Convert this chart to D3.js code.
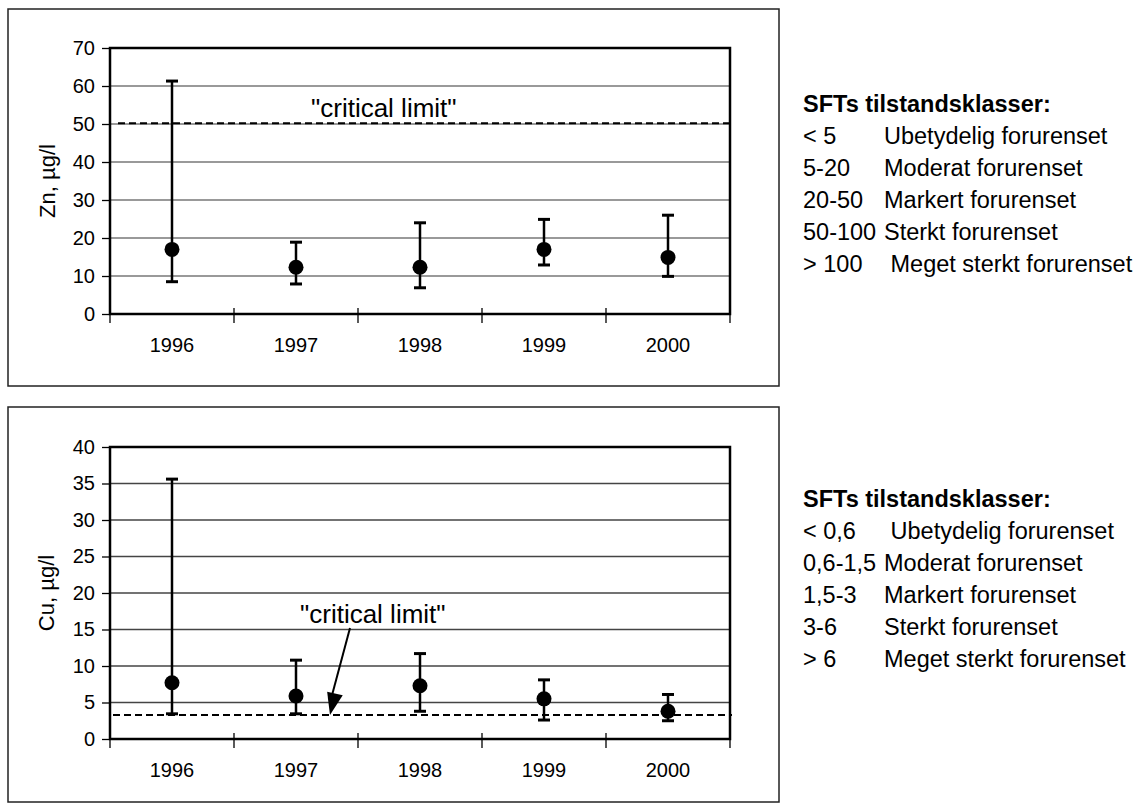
<!DOCTYPE html>
<html>
<head>
<meta charset="utf-8">
<script src="https://cdn.jsdelivr.net/npm/d3@7"></script>
<style>
  body { margin: 0; background: #fff; }
  text { font-family: Arial, "Liberation Sans", sans-serif; fill: #000; }
</style>
</head>
<body>
<div id="chart"></div>
<script>
/* Zn / Cu error bar charts with SFT class legend */

// categories
const years = ["1996", "1997", "1998", "1999", "2000"];

// Zn, µg/l
const znMean = [17.0, 12.3, 12.3, 17.0, 14.9];
const znLow = [8.5, 7.9, 6.9, 12.9, 9.9];
const znHigh = [61.3, 18.9, 24.0, 24.9, 26.0];
const znLimit = 50.2;
const znTicks = [0, 10, 20, 30, 40, 50, 60, 70];

// Cu, µg/l
const cuMean = [7.7, 5.9, 7.3, 5.5, 3.8];
const cuLow = [3.45, 3.45, 3.8, 2.6, 2.5];
const cuHigh = [35.6, 10.8, 11.7, 8.1, 6.1];
const cuLimit = 3.3;
const cuTicks = [0, 5, 10, 15, 20, 25, 30, 35, 40];

// legends
const legendTitle = "SFTs tilstandsklasser:";
const znClassRanges = ["< 5", "5-20", "20-50", "50-100", "> 100"];
const znClassNames = ["Ubetydelig forurenset", "Moderat forurenset", "Markert forurenset", "Sterkt forurenset", " Meget sterkt forurenset"];
const cuClassRanges = ["< 0,6", "0,6-1,5", "1,5-3", "3-6", "> 6"];
const cuClassNames = [" Ubetydelig forurenset", "Moderat forurenset", "Markert forurenset", "Sterkt forurenset", "Meget sterkt forurenset"];

const W = 1142, H = 805;

const svg = d3.select("#chart")
  .append("svg")
  .attr("width", W)
  .attr("height", H);

svg.append("rect").attr("width", W).attr("height", H).attr("fill", "#fff");

function drawPanel(p) {
  const g = svg.append("g");

  // outer frame
  g.append("rect")
    .attr("x", p.frame[0]).attr("y", p.frame[1])
    .attr("width", p.frame[2] - p.frame[0]).attr("height", p.frame[3] - p.frame[1])
    .attr("fill", "none").attr("stroke", "#222").attr("stroke-width", 1.5);

  const x = d3.scaleBand().domain(years).range([p.left, p.right]);
  const y = d3.scaleLinear().domain([0, d3.max(p.ticks)]).range([p.bottom, p.top]);

  // gridlines
  g.selectAll(".grid")
    .data(p.ticks.slice(1, -1))
    .join("line")
    .attr("x1", p.left).attr("x2", p.right)
    .attr("y1", d => y(d)).attr("y2", d => y(d))
    .attr("stroke", p.gridColor).attr("stroke-width", 1.3);

  // y axis
  const yApp = g.append("g")
    .attr("transform", "translate(" + p.left + ",0)")
    .call(d3.axisLeft(y).tickValues(p.ticks).tickSize(8).tickPadding(7));
  yApp.select(".domain").remove();
  yApp.selectAll("line").attr("stroke", "#000").attr("stroke-width", 1.3);
  yApp.selectAll("text").style("font-size", "20px").attr("fill", "#000");

  // x axis labels
  const xApp = g.append("g")
    .attr("transform", "translate(0," + p.bottom + ")")
    .call(d3.axisBottom(x).tickSize(0).tickPadding(24));
  xApp.select(".domain").remove();
  xApp.selectAll("text").style("font-size", "20px").attr("fill", "#000");

  // x ticks on category boundaries
  const bounds = years.map(d => x(d)).concat([x.range()[1]]);
  g.selectAll(".xtick")
    .data(bounds)
    .join("line")
    .attr("x1", d => d).attr("x2", d => d)
    .attr("y1", (d, i) => i === 0 ? p.bottom : p.bottom - 6)
    .attr("y2", p.bottom + 9)
    .attr("stroke", "#000").attr("stroke-width", 1.3);

  // plot border
  g.append("rect")
    .attr("x", p.left).attr("y", p.top)
    .attr("width", p.right - p.left).attr("height", p.bottom - p.top)
    .attr("fill", "none").attr("stroke", "#000").attr("stroke-width", 2.5);

  // critical limit
  g.append("line")
    .attr("x1", p.left + p.limitInset).attr("x2", p.right + 2)
    .attr("y1", y(p.limit)).attr("y2", y(p.limit))
    .attr("stroke", "#000").attr("stroke-width", 2)
    .attr("stroke-dasharray", "7,4");

  g.append("text")
    .attr("x", p.labelX).attr("y", p.labelY)
    .style("font-size", "26px")
    .text("\"critical limit\"");

  if (p.arrow) {
    const a = p.arrow;
    g.append("line")
      .attr("x1", a[0]).attr("y1", a[1])
      .attr("x2", a[2]).attr("y2", y(p.limit) - 16)
      .attr("stroke", "#000").attr("stroke-width", 2);
    const tipX = a[2] - 1, tipY = y(p.limit);
    const ang = Math.atan2(tipY - a[1], tipX - a[0]);
    const len = 22, half = 8;
    const bx = tipX - len * Math.cos(ang), by = tipY - len * Math.sin(ang);
    const pts = [
      [tipX, tipY],
      [bx + half * Math.sin(ang), by - half * Math.cos(ang)],
      [bx - half * Math.sin(ang), by + half * Math.cos(ang)]
    ];
    g.append("path").attr("d", d3.line()(pts) + "Z").attr("fill", "#000");
  }

  // error bars
  const bars = g.selectAll(".bar")
    .data(years.map((d, i) => ({year: d, mean: p.mean[i], low: p.low[i], high: p.high[i]})))
    .join("g")
    .attr("transform", d => "translate(" + (x(d.year) + x.bandwidth() / 2) + ",0)");

  bars.append("line")
    .attr("y1", d => y(d.low)).attr("y2", d => y(d.high))
    .attr("stroke", "#000").attr("stroke-width", 2.5);
  bars.append("line")
    .attr("x1", -6).attr("x2", 6)
    .attr("y1", d => y(d.high)).attr("y2", d => y(d.high))
    .attr("stroke", "#000").attr("stroke-width", 3);
  bars.append("line")
    .attr("x1", -6).attr("x2", 6)
    .attr("y1", d => y(d.low)).attr("y2", d => y(d.low))
    .attr("stroke", "#000").attr("stroke-width", 3);
  bars.append("circle")
    .attr("cy", d => y(d.mean)).attr("r", 7.5)
    .attr("fill", "#000");

  // y axis title
  g.append("text")
    .attr("transform", "translate(" + p.titleX + "," + (p.top + p.bottom) / 2 + ") rotate(-90)")
    .attr("text-anchor", "middle")
    .attr("dy", "0.35em")
    .style("font-size", "22px")
    .text(p.title);

  // legend
  const lg = g.append("g").attr("transform", "translate(803," + p.legendY + ")");
  lg.append("text")
    .style("font-size", "23.5px").style("font-weight", "bold")
    .text(legendTitle);
  p.ranges.forEach((r, i) => {
    const t = lg.append("text")
      .attr("y", (i + 1) * 32)
      .style("font-size", "23.5px")
      .text(r);
    const w = t.node().getComputedTextLength();
    lg.append("text")
      .attr("x", Math.max(81, w + 7))
      .attr("y", (i + 1) * 32)
      .style("font-size", "23.5px")
      .style("white-space", "pre")
      .attr("xml:space", "preserve")
      .text(p.names[i]);
  });
}

drawPanel({
  frame: [8, 9, 779, 386],
  left: 110, right: 730, top: 48, bottom: 314,
  ticks: znTicks, mean: znMean, low: znLow, high: znHigh, limit: znLimit,
  gridColor: "#777", limitInset: 8,
  labelX: 311, labelY: 117, arrow: null,
  title: "Zn, µg/l", titleX: 47,
  legendY: 112, ranges: znClassRanges, names: znClassNames
});

drawPanel({
  frame: [8, 407, 779, 802],
  left: 110, right: 730, top: 447, bottom: 739,
  ticks: cuTicks, mean: cuMean, low: cuLow, high: cuHigh, limit: cuLimit,
  gridColor: "#444", limitInset: 3,
  labelX: 300, labelY: 623, arrow: [350, 628, 331],
  title: "Cu, µg/l", titleX: 46,
  legendY: 507, ranges: cuClassRanges, names: cuClassNames
});
</script>
</body>
</html>
